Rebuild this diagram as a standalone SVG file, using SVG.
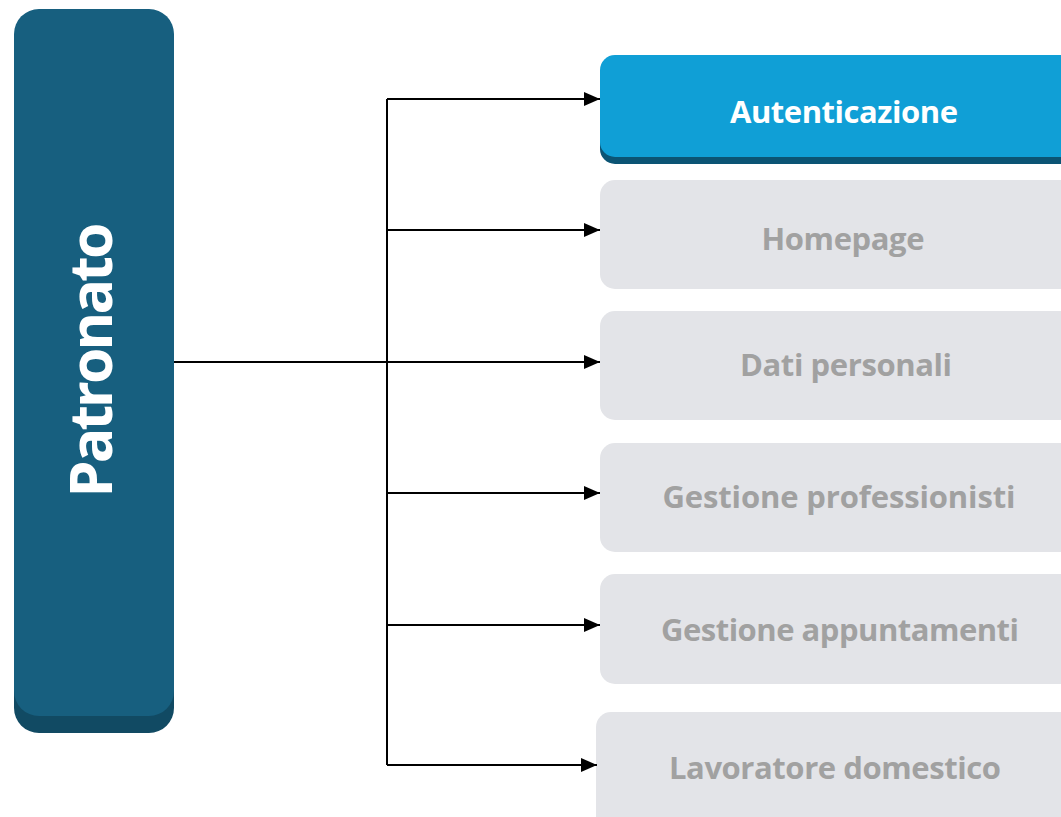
<svg xmlns="http://www.w3.org/2000/svg" width="1061" height="817" viewBox="0 0 1061 817">
<defs>
<style>
.lbl{font-family:"Open Sans","Liberation Sans",sans-serif;font-weight:700;font-size:31px;text-anchor:middle;fill:#a1a1a1}
.gray{fill:#e3e4e8}
.conn{stroke:#000;stroke-width:2;fill:none}
</style>
<marker id="ah" viewBox="0 0 16 14" refX="16" refY="7" markerWidth="16" markerHeight="14" markerUnits="userSpaceOnUse" orient="auto">
<path d="M0,0 L16,7 L0,14 Z" fill="#000"/>
</marker>
</defs>
<rect width="1061" height="817" fill="#fff"/>
<g id="patronato">
<rect x="14" y="26" width="160" height="707" rx="25" fill="#114a63"/>
<rect x="14" y="9" width="160" height="707" rx="25" fill="#175f7f"/>
<text transform="translate(112,360) rotate(-90)" font-family="Open Sans, Liberation Sans, sans-serif" font-weight="700" font-size="59" fill="#fff" text-anchor="middle" textLength="275">Patronato</text>
</g>
<g id="autenticazione">
<rect x="600" y="63" width="500" height="101" rx="15" fill="#0b5474"/>
<rect x="600" y="55" width="500" height="102" rx="15" fill="#109fd6"/>
<text class="lbl" x="844" y="123" style="fill:#fff" textLength="228">Autenticazione</text>
</g>
<g id="homepage">
<rect class="gray" x="600" y="180" width="500" height="109" rx="15"/>
<text class="lbl" x="843" y="250" textLength="163">Homepage</text>
</g>
<g id="dati-personali">
<rect class="gray" x="600" y="311" width="500" height="109" rx="15"/>
<text class="lbl" x="846" y="376" textLength="212">Dati personali</text>
</g>
<g id="gestione-professionisti">
<rect class="gray" x="600" y="443" width="500" height="109" rx="15"/>
<text class="lbl" x="839" y="508" textLength="353">Gestione professionisti</text>
</g>
<g id="gestione-appuntamenti">
<rect class="gray" x="600" y="574" width="500" height="110" rx="15"/>
<text class="lbl" x="840" y="641" textLength="358">Gestione appuntamenti</text>
</g>
<g id="lavoratore-domestico">
<rect class="gray" x="596" y="712" width="500" height="130" rx="15"/>
<text class="lbl" x="835" y="779" textLength="332">Lavoratore domestico</text>
</g>
<g id="connectors">
<path class="conn" d="M174,362 H600" marker-end="url(#ah)"/>
<path class="conn" d="M387,99 V765"/>
<path class="conn" d="M387,99 H600" marker-end="url(#ah)"/>
<path class="conn" d="M387,230 H600" marker-end="url(#ah)"/>
<path class="conn" d="M387,493 H600" marker-end="url(#ah)"/>
<path class="conn" d="M387,625 H600" marker-end="url(#ah)"/>
<path class="conn" d="M387,765 H597" marker-end="url(#ah)"/>
</g>
</svg>
